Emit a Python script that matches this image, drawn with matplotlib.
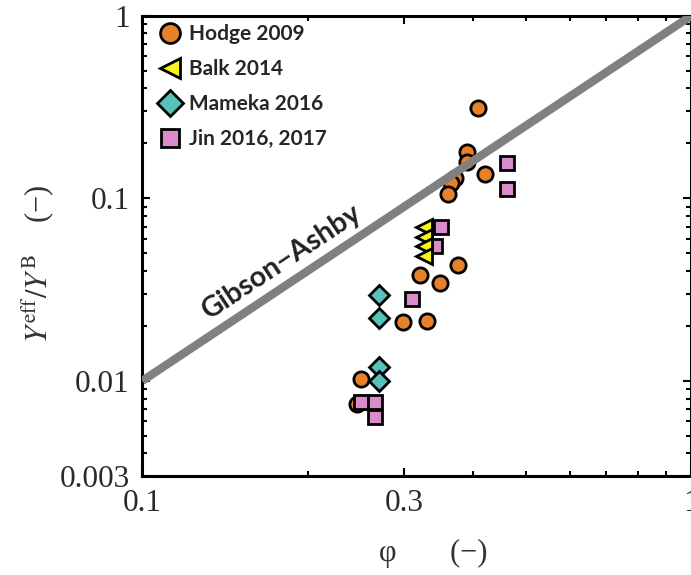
import numpy as np
import matplotlib
matplotlib.use("Agg")
import matplotlib.pyplot as plt
from matplotlib.ticker import FixedLocator, NullFormatter, FixedFormatter


# ---------- data ----------
hodge_phi = [0.409, 0.390, 0.390, 0.371, 0.365, 0.421, 0.360,
             0.376, 0.321, 0.349, 0.299, 0.330, 0.250, 0.246]
hodge_y = [0.311, 0.179, 0.158, 0.1285, 0.121, 0.136, 0.105,
           0.0430, 0.0380, 0.0345, 0.0211, 0.0212, 0.0102, 0.0075]

balk_phi = [0.326, 0.326, 0.326, 0.326]
balk_y = [0.0693, 0.0613, 0.0547, 0.0485]

mameka_phi = [0.270, 0.270, 0.270, 0.270]
mameka_y = [0.0297, 0.0222, 0.0119, 0.0100]

jin_phi = [0.461, 0.461, 0.350, 0.341, 0.310, 0.250, 0.265, 0.265]
jin_y = [0.156, 0.113, 0.0693, 0.0547, 0.0279, 0.00767, 0.00767, 0.00635]

# Gibson-Ashby scaling (Y ~ phi^2)
ga_phi = [0.1, 1.0]
ga_y = [0.01, 1.0]

x_major = [0.1, 0.3, 1.0]
x_major_labels = ["0.1", "0.3", "1"]
y_major = [0.003, 0.01, 0.1, 1.0]
y_major_labels = ["0.003", "0.01", "0.1", "1"]


plt.rcParams["mathtext.fontset"] = "stix"
serif = "Liberation Serif"
sans = "Lato"

fig = plt.figure(figsize=(6.91, 5.75), dpi=100)
ax = fig.add_axes([0.206, 0.1717, 0.7945, 0.801])

ax.set_xscale("log")
ax.set_yscale("log")
ax.set_xlim(0.1, 1.0)
ax.set_ylim(0.003, 1.0)

edge = dict(markeredgecolor="black", markeredgewidth=2.0, linestyle="none")

h_hodge, = ax.plot(hodge_phi, hodge_y, marker="o", markersize=11, markerfacecolor="#e8822a",
                   label="Hodge 2009", zorder=3, **edge)
h_jin, = ax.plot(jin_phi, jin_y, marker="s", markersize=10.5, markerfacecolor="#d98bcb",
                 label="Jin 2016, 2017", zorder=4, **edge)
h_mameka, = ax.plot(mameka_phi, mameka_y, marker="D", markersize=10.5, markerfacecolor="#56c2b9",
                    label="Mameka 2016", zorder=5, **edge)
h_balk, = ax.plot(balk_phi, balk_y, marker="<", markersize=11, markerfacecolor="#f7f31e",
                  label="Balk 2014", zorder=6, **edge)

ax.plot(ga_phi, ga_y, color="#808080", linewidth=6, solid_capstyle="butt", zorder=7)

# rotate the label to follow the line on screen
p0 = ax.transData.transform((ga_phi[0], ga_y[0]))
p1 = ax.transData.transform((ga_phi[1], ga_y[1]))
angle = np.degrees(np.arctan2(p1[1] - p0[1], p1[0] - p0[0]))
ax.text(0.1797, 0.0447, "Gibson\u2212Ashby", rotation=angle, rotation_mode="anchor",
        ha="center", va="center", fontsize=20.5, fontweight="bold",
        family=[sans, "DejaVu Sans"], color="#222222", zorder=8)

# ---------- ticks ----------
ax.xaxis.set_major_locator(FixedLocator(x_major))
ax.xaxis.set_major_formatter(FixedFormatter(x_major_labels))
ax.xaxis.set_minor_locator(FixedLocator([0.2, 0.4, 0.5, 0.6, 0.7, 0.8, 0.9]))
ax.xaxis.set_minor_formatter(NullFormatter())

y_minor = [m * d for d in (0.001, 0.01, 0.1) for m in range(2, 10)]
y_minor = [v for v in y_minor if 0.003 < v < 1 and not np.isclose(v, 0.003)]
ax.yaxis.set_major_locator(FixedLocator(y_major))
ax.yaxis.set_major_formatter(FixedFormatter(y_major_labels))
ax.yaxis.set_minor_locator(FixedLocator(y_minor))
ax.yaxis.set_minor_formatter(NullFormatter())

ax.tick_params(which="both", direction="in", top=True, right=True, width=1.5)
ax.tick_params(which="major", length=6, pad=9, labelsize=22.5)
ax.tick_params(which="minor", length=3.5)
for lab in ax.get_xticklabels() + ax.get_yticklabels():
    lab.set_family(serif)
    lab.set_color("#2a2a2a")

for s in ax.spines.values():
    s.set_linewidth(2.2)

# ---------- labels ----------
ax.set_xlabel("\u03c6       (\u2212)", family=serif, fontsize=22, color="#333333")
ax.xaxis.set_label_coords(0.53, -0.135)
ax.set_ylabel(r"$Y^{\mathrm{eff}}/Y^{\mathrm{B}}$" + "    (\u2212)", fontsize=22,
              color="#333333")
ax.yaxis.label.set_family(serif)
ax.yaxis.set_label_coords(-0.155, 0.462)

leg = ax.legend(handles=[h_hodge, h_balk, h_mameka, h_jin],
                loc="upper left", bbox_to_anchor=(0.032, 0.982), frameon=False,
                borderpad=0, borderaxespad=0, handlelength=1.0, handletextpad=0.4,
                labelspacing=0.72, markerscale=1.3,
                prop={"family": [sans, "DejaVu Sans"], "weight": "bold", "size": 15})
for t in leg.get_texts():
    t.set_color("#262626")

fig.savefig("out.png", dpi=100)
